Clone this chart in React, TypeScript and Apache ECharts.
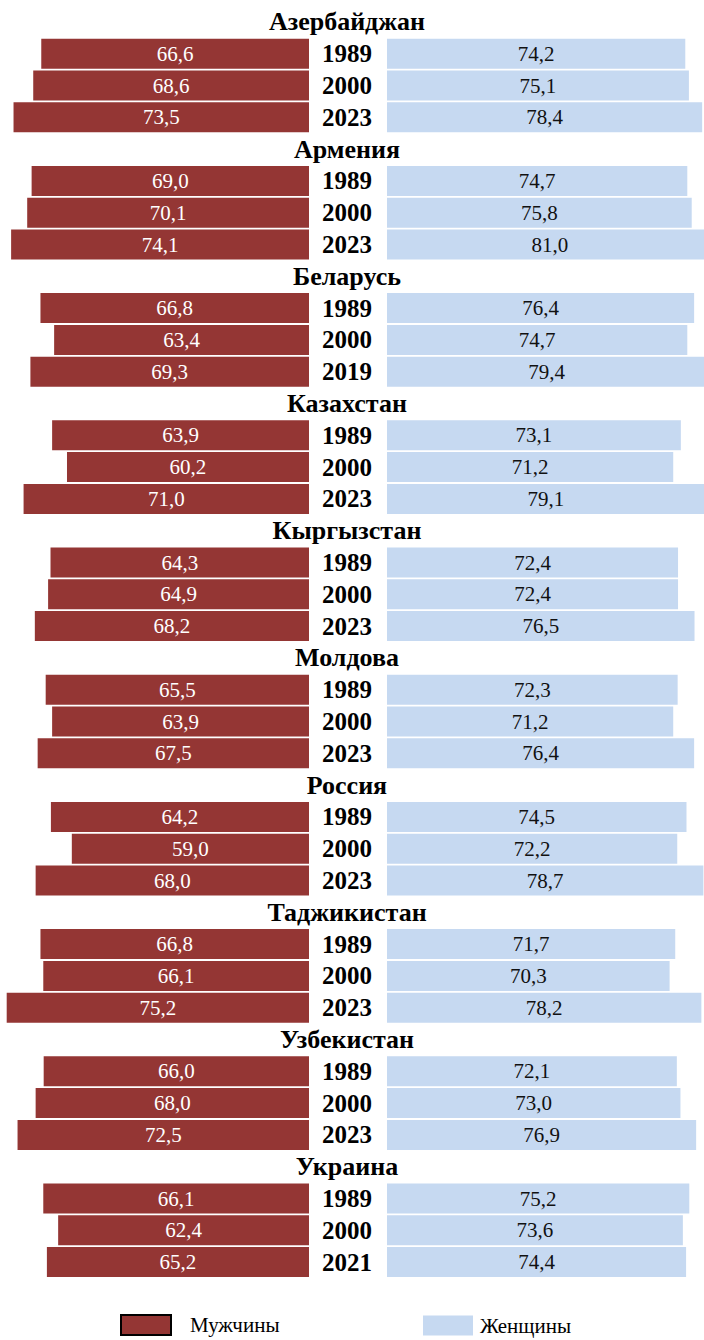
import React, { useEffect, useRef } from 'react';
import * as echarts from 'echarts';

const countries = ['Азербайджан', 'Армения', 'Беларусь', 'Казахстан', 'Кыргызстан', 'Молдова', 'Россия', 'Таджикистан', 'Узбекистан', 'Украина'];
const years = [
  ['1989', '2000', '2023'],
  ['1989', '2000', '2023'],
  ['1989', '2000', '2019'],
  ['1989', '2000', '2023'],
  ['1989', '2000', '2023'],
  ['1989', '2000', '2023'],
  ['1989', '2000', '2023'],
  ['1989', '2000', '2023'],
  ['1989', '2000', '2023'],
  ['1989', '2000', '2021'],
];
const male = [
  [66.6, 68.6, 73.5],
  [69.0, 70.1, 74.1],
  [66.8, 63.4, 69.3],
  [63.9, 60.2, 71.0],
  [64.3, 64.9, 68.2],
  [65.5, 63.9, 67.5],
  [64.2, 59.0, 68.0],
  [66.8, 66.1, 75.2],
  [66.0, 68.0, 72.5],
  [66.1, 62.4, 65.2],
];
const female = [
  [74.2, 75.1, 78.4],
  [74.7, 75.8, 81.0],
  [76.4, 74.7, 79.4],
  [73.1, 71.2, 79.1],
  [72.4, 72.4, 76.5],
  [72.3, 71.2, 76.4],
  [74.5, 72.2, 78.7],
  [71.7, 70.3, 78.2],
  [72.1, 73.0, 76.9],
  [75.2, 73.6, 74.4],
];
const seriesNames = ['Мужчины', 'Женщины'];

const MALE_COLOR = '#943634';
const FEMALE_COLOR = '#C6D9F1';
const FONT = 'Liberation Serif';
const PX_PER_UNIT = 4.02;

const fmt = (v: number) => v.toFixed(1).replace('.', ',');

export default function App() {
  const ref = useRef<HTMLDivElement>(null);
  useEffect(() => {
    const chart = echarts.init(ref.current!, null, { renderer: 'svg' });
    const cats: string[] = [];
    const maleData: (number | string)[] = [];
    const femaleData: (number | string)[] = [];
    countries.forEach((c, i) => {
      cats.push(c);
      maleData.push('-');
      femaleData.push('-');
      years[i].forEach((y, j) => {
        cats.push(c + '|' + y);
        maleData.push(male[i][j]);
        femaleData.push(female[i][j]);
      });
    });
    const top = 6;
    const height = 1272;
    const leftW = 309;
    const rightLeft = 387;
    const rightW = 353;
    chart.setOption({
      animation: false,
      textStyle: { fontFamily: FONT },
      grid: [
        { left: 0, top, width: leftW, height },
        { left: rightLeft, top, width: rightW, height },
      ],
      xAxis: [
        { gridIndex: 0, type: 'value', inverse: true, min: 0, max: leftW / PX_PER_UNIT, show: false },
        { gridIndex: 1, type: 'value', min: 0, max: rightW / PX_PER_UNIT, show: false },
      ],
      yAxis: [
        { gridIndex: 0, type: 'category', data: cats, inverse: true, show: false },
        {
          gridIndex: 1,
          type: 'category',
          data: cats,
          inverse: true,
          axisLine: { show: false },
          axisTick: { show: false },
          splitLine: { show: false },
          axisLabel: {
            interval: 0,
            margin: 40,
            align: 'center',
            fontFamily: FONT,
            formatter: (value: string) => {
              const p = value.split('|');
              return p.length === 1 ? `{t|${p[0]}}` : `{y|${p[1]}}`;
            },
            rich: {
              t: { fontFamily: FONT, fontWeight: 'bold', fontSize: 26, color: '#000' },
              y: { fontFamily: FONT, fontWeight: 'bold', fontSize: 25, color: '#000' },
            },
          },
        },
      ],
      legend: [
        {
          data: [{ name: seriesNames[0], itemStyle: { borderColor: '#000', borderWidth: 2 } }],
          left: 120,
          top: 1314,
          padding: 0,
          itemWidth: 50,
          itemHeight: 20,
          icon: 'rect',
          selectedMode: false,
          textStyle: { fontFamily: FONT, fontSize: 21, color: '#000', padding: [0, 0, 0, 14] },
        },
        {
          data: [seriesNames[1]],
          left: 423,
          top: 1315,
          padding: 0,
          itemWidth: 50,
          itemHeight: 20,
          icon: 'rect',
          selectedMode: false,
          textStyle: { fontFamily: FONT, fontSize: 21, color: '#000', padding: [0, 0, 0, 2] },
        },
      ],
      series: [
        {
          name: seriesNames[0],
          type: 'bar',
          xAxisIndex: 0,
          yAxisIndex: 0,
          data: maleData,
          barWidth: 30,
          itemStyle: { color: MALE_COLOR },
          label: {
            show: true,
            position: 'inside',
            color: '#fff',
            fontFamily: FONT,
            fontSize: 21,
            formatter: (p: any) => fmt(p.value),
          },
        },
        {
          name: seriesNames[1],
          type: 'bar',
          xAxisIndex: 1,
          yAxisIndex: 1,
          data: femaleData,
          barWidth: 30,
          itemStyle: { color: FEMALE_COLOR },
          label: {
            show: true,
            position: 'inside',
            color: '#111',
            fontFamily: FONT,
            fontSize: 21,
            formatter: (p: any) => fmt(p.value),
          },
        },
      ],
    });
    return () => chart.dispose();
  }, []);
  return (
    <div style={{ position: 'absolute', left: 0, top: 0, width: 704, height: 1340, overflow: 'hidden', background: '#fff' }}>
      <div ref={ref} style={{ width: 740, height: 1340 }} />
    </div>
  );
}
